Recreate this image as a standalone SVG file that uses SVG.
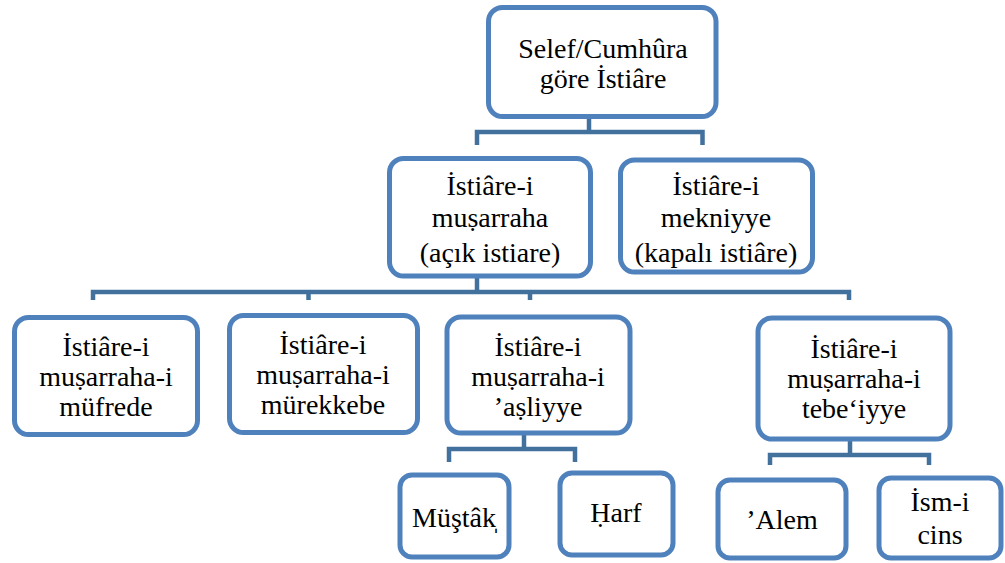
<svg xmlns="http://www.w3.org/2000/svg" width="1005" height="563" viewBox="0 0 1005 563">
  <rect width="1005" height="563" fill="#ffffff"/>

  <!-- connectors: elbow lines from each parent down to its children -->
  <g id="connectors" fill="none" stroke="#41719c" stroke-width="4.5">
    <path d="M589,112 V132"/>
    <path d="M477,145 V132 H702.5 V145"/>
    <path d="M477,272 V292"/>
    <path d="M93,300 V292 H849 V300 M308.5,292 V300 M530,292 V300"/>
    <path d="M524,430 V449"/>
    <path d="M449,462 V449 H575 V462"/>
    <path d="M850,437 V455"/>
    <path d="M770,465 V455 H929 V465"/>
  </g>

  <!-- nodes: rounded boxes with centred serif labels -->
  <g font-family="Liberation Serif, Times New Roman, serif" font-size="28" text-anchor="middle" fill="#000000">
    <g id="root">
      <rect x="488.5" y="7.5" width="227.5" height="109" rx="14" fill="#ffffff" stroke="#4f81bd" stroke-width="5"/>
      <text x="603" y="58">Selef/Cumhûra</text>
      <text x="603" y="88">göre İstiâre</text>
    </g>

    <g id="musarraha">
      <rect x="389.5" y="158.5" width="201" height="117.5" rx="14" fill="#ffffff" stroke="#4f81bd" stroke-width="5"/>
      <text x="490" y="195">İstiâre-i</text>
      <text x="490" y="227">muṣarraha</text>
      <text x="490" y="262">(açık istiare)</text>
    </g>
    <g id="mekniyye">
      <rect x="620.5" y="160" width="192" height="112" rx="14" fill="#ffffff" stroke="#4f81bd" stroke-width="5"/>
      <text x="716" y="195">İstiâre-i</text>
      <text x="716" y="227">mekniyye</text>
      <text x="716" y="262">(kapalı istiâre)</text>
    </g>

    <g id="mufrede">
      <rect x="14.5" y="317.5" width="183" height="117" rx="14" fill="#ffffff" stroke="#4f81bd" stroke-width="5"/>
      <text x="106" y="356">İstiâre-i</text>
      <text x="106" y="386">muṣarraha-i</text>
      <text x="106" y="416">müfrede</text>
    </g>
    <g id="murekkebe">
      <rect x="229.5" y="315.5" width="188" height="117" rx="14" fill="#ffffff" stroke="#4f81bd" stroke-width="5"/>
      <text x="323" y="354">İstiâre-i</text>
      <text x="323" y="384">muṣarraha-i</text>
      <text x="323" y="414">mürekkebe</text>
    </g>
    <g id="asliyye">
      <rect x="447" y="317" width="183" height="116" rx="14" fill="#ffffff" stroke="#4f81bd" stroke-width="5"/>
      <text x="538" y="356">İstiâre-i</text>
      <text x="538" y="386">muṣarraha-i</text>
      <text x="538" y="416">’aṣliyye</text>
    </g>
    <g id="tebeiyye">
      <rect x="758" y="318" width="192" height="121" rx="14" fill="#ffffff" stroke="#4f81bd" stroke-width="5"/>
      <text x="854" y="358">İstiâre-i</text>
      <text x="854" y="388">muṣarraha-i</text>
      <text x="854" y="418">tebe‘iyye</text>
    </g>

    <g id="mustak">
      <rect x="400" y="475" width="109" height="82" rx="12" fill="#ffffff" stroke="#4f81bd" stroke-width="5"/>
      <text x="454" y="527">Müştâk̩</text>
    </g>
    <g id="harf">
      <rect x="560" y="473" width="113" height="82" rx="12" fill="#ffffff" stroke="#4f81bd" stroke-width="5"/>
      <text x="616" y="522">Ḥarf</text>
    </g>
    <g id="alem">
      <rect x="718" y="480" width="128" height="78" rx="12" fill="#ffffff" stroke="#4f81bd" stroke-width="5"/>
      <text x="782" y="529">’Alem</text>
    </g>
    <g id="ism-i-cins">
      <rect x="879" y="478" width="122" height="80" rx="12" fill="#ffffff" stroke="#4f81bd" stroke-width="5"/>
      <text x="940" y="511">İsm-i</text>
      <text x="940" y="544">cins</text>
    </g>
  </g>
</svg>
